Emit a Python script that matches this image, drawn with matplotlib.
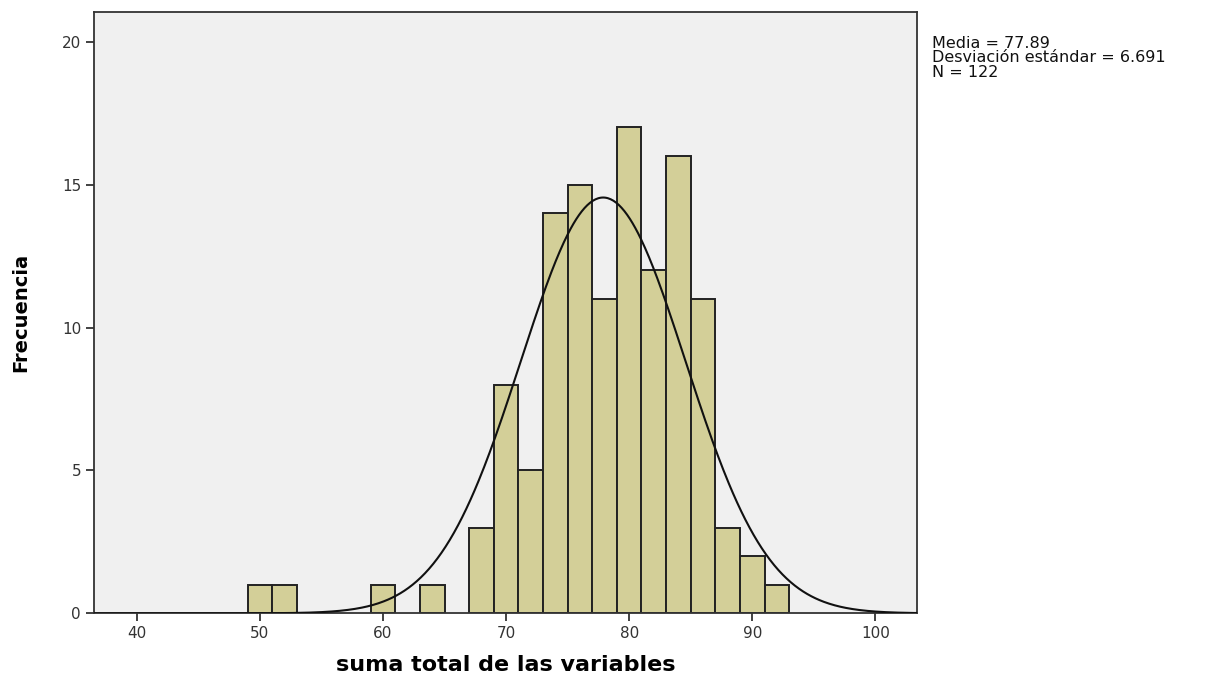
import matplotlib
matplotlib.use('Agg')
import matplotlib.pyplot as plt
import numpy as np

plt.rcParams['font.family'] = ['DejaVu Sans']

# histogram data (bin width 2)
bin_left = [49, 51, 59, 63, 67, 69, 71, 73, 75, 77, 79, 81, 83, 85, 87, 89, 91]
counts = [1, 1, 1, 1, 3, 8, 5, 14, 15, 11, 17, 12, 16, 11, 3, 2, 1]
bin_width = 2

media = 77.89
desv = 6.691
n = 122

xticks = [40, 50, 60, 70, 80, 90, 100]
yticks = [0, 5, 10, 15, 20]

fig = plt.figure(figsize=(12.06, 6.73), dpi=100)
ax = fig.add_axes([0.0782, 0.0887, 0.760 - 0.0782, 0.9826 - 0.0887])
ax.set_facecolor('#f0f0f0')

ax.bar(bin_left, counts, width=bin_width, align='edge',
       color='#d3cf98', edgecolor='#222222', linewidth=1.4, zorder=2)

# normal curve scaled to the counts
xx = np.linspace(36.5, 103.4, 600)
yy = n * bin_width / (desv * np.sqrt(2 * np.pi)) * np.exp(-0.5 * ((xx - media) / desv) ** 2)
ax.plot(xx, yy, color='#111111', linewidth=1.5, zorder=3)

ax.set_xlim(36.55, 103.35)
ax.set_ylim(0, 21.05)
ax.set_xticks(xticks)
ax.set_yticks(yticks)
ax.tick_params(axis='both', direction='out', length=6, width=1.3,
               color='#333333', labelcolor='#333333', labelsize=11)
for s in ax.spines.values():
    s.set_color('#333333')
    s.set_linewidth(1.3)

ax.set_xlabel('suma total de las variables', fontsize=16, fontweight='bold',
              labelpad=10)
ax.set_ylabel('Frecuencia', fontsize=14, fontweight='bold', labelpad=23)

fig.text(0.7725, 0.947, f'Media = {media}\nDesviación estándar = {desv}\nN = {n}',
         fontsize=11.5, color='#111111', va='top', ha='left', linespacing=0.98)

fig.savefig('out.png', dpi=100)
